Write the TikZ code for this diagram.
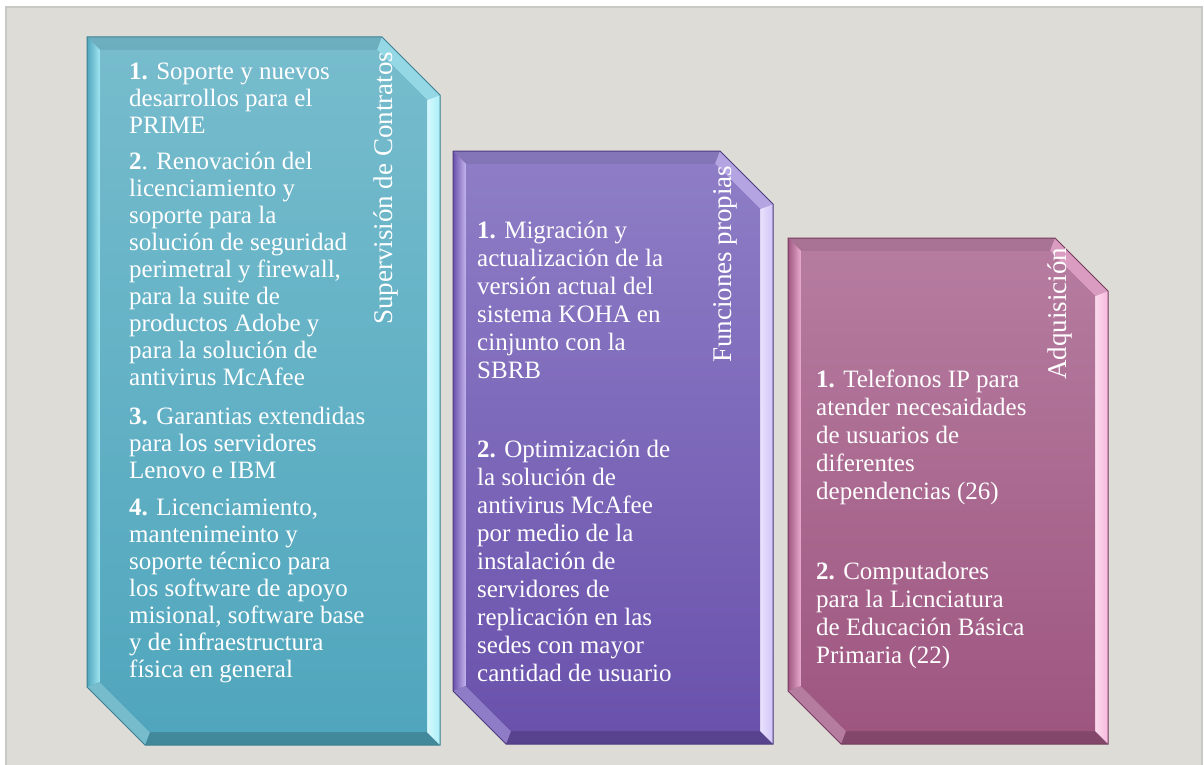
\documentclass[tikz,border=0pt]{standalone}
\usepackage{fontspec}
\setmainfont{Liberation Serif}
\definecolor{pagegray}{RGB}{221,220,215}
\definecolor{framegray}{RGB}{200,200,196}
\definecolor{tealtop}{RGB}{118,188,205}
\definecolor{tealbot}{RGB}{80,166,189}
\definecolor{teallight}{RGB}{172,240,250}
\definecolor{tealdark}{RGB}{62,128,146}
\definecolor{purtop}{RGB}{142,125,198}
\definecolor{purbot}{RGB}{106,82,172}
\definecolor{purlight}{RGB}{210,196,248}
\definecolor{purdark}{RGB}{78,60,128}
\definecolor{magtop}{RGB}{182,124,160}
\definecolor{magbot}{RGB}{158,86,128}
\definecolor{maglight}{RGB}{248,184,220}
\definecolor{magdark}{RGB}{118,60,94}

\begin{document}
\begin{tikzpicture}[x=1pt, y=-1pt,
itemtext/.style={anchor=north west, inner sep=0pt, align=left, text=white, font=\fontsize{25}{27}\selectfont},
itemwide/.style={itemtext, font=\fontsize{25}{28}\selectfont},
tagtext/.style={rotate=90, anchor=base west, inner sep=0pt, text=white, font=\fontsize{27}{30}\selectfont}
]
    %Background
    \useasboundingbox (0,0) rectangle (1204,765);
    \fill[pagegray] (6,7) rectangle (1202,765);
    \draw[framegray, line width=1.5pt] (6,765) -- (6,7) -- (1202,7) -- (1202,765);

    %Bevelled boxes
    \foreach \xa/\ya/\xb/\yb/\c/\col in {87/37/440/745/58/teal, 453/151/773/744/53/pur, 788/238/1108/744/53/mag}{
        \shade[top color=\col top!93!black, bottom color=\col bot!82!black]
            (\xa,\ya) -- ({\xb-\c},\ya) -- (\xb,{\ya+\c}) -- (\xb,\yb) -- ({\xa+\c},\yb) -- (\xa,{\yb-\c}) -- cycle;
        \shade[left color=\col bot, right color=\col light!80!\col top]
            (\xa,\ya) -- ({\xa+13},{\ya+13}) -- ({\xa+13},{\yb-\c-5}) -- (\xa,{\yb-\c}) -- cycle;
        \shade[left color=white!50!\col light, right color=\col light]
            (\xb,{\ya+\c}) -- ({\xb-13},{\ya+\c+5}) -- ({\xb-13},{\yb-13}) -- (\xb,\yb) -- cycle;
        \fill[\col light!55!\col top]
            ({\xb-\c},\ya) -- (\xb,{\ya+\c}) -- ({\xb-13},{\ya+\c+5}) -- ({\xb-\c-5},{\ya+13}) -- cycle;
        \fill[\col top]
            (\xa,{\yb-\c}) -- ({\xa+\c},\yb) -- ({\xa+\c+5},{\yb-13}) -- ({\xa+13},{\yb-\c-5}) -- cycle;
        \shade[top color=\col top, bottom color=\col bot]
            ({\xa+13},{\ya+13}) -- ({\xb-\c-5},{\ya+13}) -- ({\xb-13},{\ya+\c+5}) -- ({\xb-13},{\yb-13}) -- ({\xa+\c+5},{\yb-13}) -- ({\xa+13},{\yb-\c-5}) -- cycle;
        \draw[\col dark, line width=1pt]
            (\xa,\ya) -- ({\xb-\c},\ya) -- (\xb,{\ya+\c}) -- (\xb,\yb) -- ({\xa+\c},\yb) -- (\xa,{\yb-\c}) -- cycle;
    }

    %Supervision de contratos
    \node[itemtext] (sc1) at (129,60) {\strut\textbf{1.} Soporte y nuevos\\desarrollos para el\\PRIME};
    \node[itemtext] (sc2) at (129,150) {\strut\textbf{2}. Renovación del\\licenciamiento y\\soporte para la\\solución de seguridad\\perimetral y firewall,\\para la suite de\\productos Adobe y\\para la solución de\\antivirus McAfee};
    \node[itemtext] (sc3) at (129,405) {\strut\textbf{3.} Garantias extendidas\\para los servidores\\Lenovo e IBM};
    \node[itemtext] (sc4) at (129,496) {\strut\textbf{4.} Licenciamiento,\\mantenimeinto y\\soporte técnico para\\los software de apoyo\\misional, software base\\y de infraestructura\\física en general};
    \node[tagtext] (sctag) at (392,325) {Supervisión de Contratos};

    %Funciones propias
    \node[itemwide] (fp1) at (477,219) {\strut\textbf{1.} Migración y\\actualización de la\\versión actual del\\sistema KOHA en\\cinjunto con la\\SBRB};
    \node[itemwide] (fp2) at (477,438) {\strut\textbf{2.} Optimización de\\la solución de\\antivirus McAfee\\por medio de la\\instalación de\\servidores de\\replicación en las\\sedes con mayor\\cantidad de usuario};
    \node[tagtext] (fptag) at (731,363) {Funciones propias};

    %Adquisicion
    \node[itemwide] (ad1) at (816,368) {\strut\textbf{1.} Telefonos IP para\\atender necesaidades\\de usuarios de\\diferentes\\dependencias (26)};
    \node[itemwide] (ad2) at (816,560) {\strut\textbf{2.} Computadores\\para la Licnciatura\\de Educación Básica\\Primaria (22)};
    \node[tagtext] (adtag) at (1066,380) {Adquisición};
\end{tikzpicture}
\end{document}
